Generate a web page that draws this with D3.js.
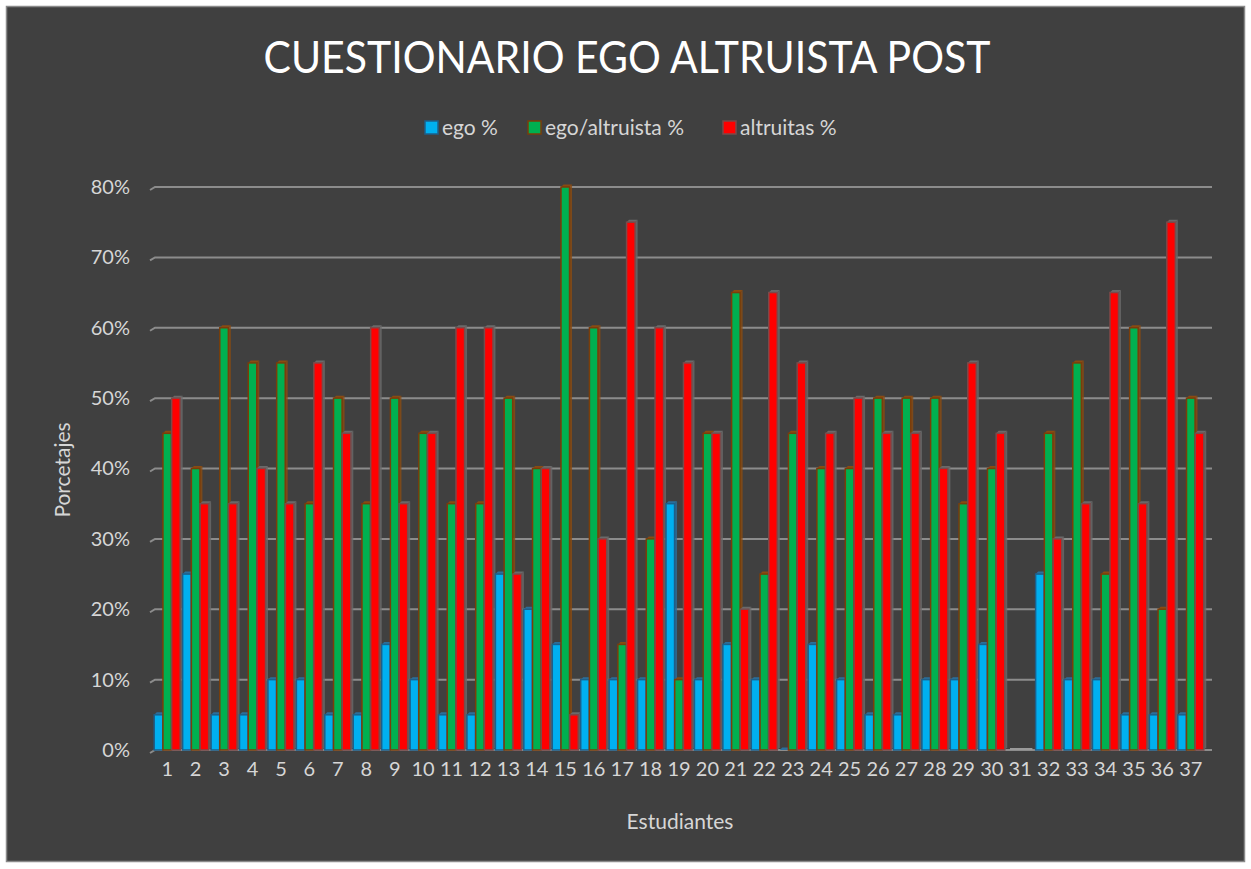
<!DOCTYPE html>
<html>
<head>
<meta charset="utf-8">
<script src="https://cdn.jsdelivr.net/npm/d3@7"></script>
<style>
    body{ margin:0; background:#ffffff; }
    text{ font-family: Lato, "Open Sans", sans-serif; }
</style>
</head>
<body>
<div id="chart"></div>
<script>
let students = d3.range(1, 38).map(String);
let ego = [5,25,5,5,10,10,5,5,15,10,5,5,25,20,15,10,10,10,35,10,15,10,0,15,10,5,5,10,10,15,null,25,10,10,5,5,5];
let egoAltruista = [45,40,60,55,55,35,50,35,50,45,35,35,50,40,80,60,15,30,10,45,65,25,45,40,40,50,50,50,35,40,null,45,55,25,60,20,50];
let altruitas = [50,35,35,40,35,55,45,60,35,45,60,60,25,40,5,30,75,60,55,45,20,65,55,45,50,45,45,40,55,45,null,30,35,65,35,75,45];
let yTicks = [0,10,20,30,40,50,60,70,80];
let seriesNames = ["ego %", "ego/altruista %", "altruitas %"];

let width = 1251, height = 869;
let colors = ["#00b0f0", "#00b050", "#ff0000"];
let strokes = ["#1d5f8a", "#7a3d0a", "#7a4a4a"];
let caps = ["#2a6f9c", "#8a4b12", "#6a6a6a"];
let labelColor = "#d6d6d6";

let svg = d3.select("#chart").append("svg")
    .attr("width", width)
    .attr("height", height);

// chart area
svg.append("rect")
    .attr("x", 6.5).attr("y", 6.5)
    .attr("width", 1238).attr("height", 855)
    .attr("fill", "#404040")
    .attr("stroke", "#8a8a8a")
    .attr("stroke-width", 1.5);

let x = d3.scaleBand()
    .domain(students)
    .range([153, 1205]);

let xInner = d3.scaleBand()
    .domain([0, 1, 2])
    .range([0, x.bandwidth()])
    .paddingOuter(0.14)
    .paddingInner(0.02);

let y = d3.scaleLinear()
    .domain([0, 80])
    .range([750, 187]);

// gridlines (with the little 3D foot on the left)
let grid = svg.append("g");
yTicks.forEach(function(t){
    let yy = y(t);
    grid.append("path")
        .attr("d", "M150," + (yy + 3) + " L155," + yy + " L1212," + yy)
        .attr("fill", "none")
        .attr("stroke", "#8c8c8c")
        .attr("stroke-width", 2);
});

// y axis labels
let yAxis = d3.axisLeft(y)
    .tickValues(yTicks)
    .tickSize(0)
    .tickPadding(0)
    .tickFormat(function(d){ return d + "%"; });

svg.append("g")
    .attr("transform", "translate(130,0)")
    .call(yAxis)
    .call(function(g){
        g.select(".domain").remove();
        g.selectAll("text")
            .attr("fill", labelColor)
            .style("font-size", "20px");
    });

// x axis labels
let xAxis = d3.axisBottom(x)
    .tickSize(0)
    .tickPadding(0);

svg.append("g")
    .attr("transform", "translate(0,762)")
    .call(xAxis)
    .call(function(g){
        g.select(".domain").remove();
        g.selectAll("text")
            .attr("fill", labelColor)
            .style("font-size", "20px");
    });

// bars
let allSeries = [ego, egoAltruista, altruitas];
let bars = svg.append("g");

students.forEach(function(s, i){
    allSeries.forEach(function(series, k){
        let v = series[i];
        if(v === null) return;
        let bx = x(s) + xInner(k);
        let bw = xInner.bandwidth();
        let top = y(v);
        let g = bars.append("g");
        // depth side
        g.append("path")
            .attr("d", "M" + (bx + bw) + "," + y(0) + " L" + (bx + bw) + "," + top +
                " L" + (bx + bw + 2.5) + "," + (top - 2.5) + " L" + (bx + bw + 2.5) + "," + (y(0) - 2.5) + "Z")
            .attr("fill", caps[k])
            .attr("opacity", 0.8);
        // top cap
        g.append("path")
            .attr("d", "M" + bx + "," + top + " L" + (bx + 2.5) + "," + (top - 2.5) +
                " L" + (bx + bw + 2.5) + "," + (top - 2.5) + " L" + (bx + bw) + "," + top + "Z")
            .attr("fill", caps[k]);
        g.append("rect")
            .attr("x", bx)
            .attr("y", top)
            .attr("width", bw)
            .attr("height", y(0) - top)
            .attr("fill", colors[k])
            .attr("stroke", strokes[k])
            .attr("stroke-width", 1.5);
    });
});

// empty student 31 floor
let s31 = students[30];
bars.append("line")
    .attr("x1", x(s31) + 4).attr("x2", x(s31) + x.bandwidth() - 2)
    .attr("y1", y(0) - 1).attr("y2", y(0) - 1)
    .attr("stroke", "#9a9a9a")
    .attr("stroke-width", 2);

// title
svg.append("text")
    .attr("x", 627)
    .attr("y", 73)
    .attr("text-anchor", "middle")
    .attr("fill", "#ffffff")
    .attr("textLength", 727)
    .attr("lengthAdjust", "spacingAndGlyphs")
    .style("font-size", "44px")
    .text("CUESTIONARIO EGO ALTRUISTA POST");

// legend
let legendX = [425, 528, 723];
let legend = svg.append("g");
seriesNames.forEach(function(name, k){
    legend.append("rect")
        .attr("x", legendX[k]).attr("y", 121)
        .attr("width", 13).attr("height", 13)
        .attr("fill", colors[k])
        .attr("stroke", strokes[k])
        .attr("stroke-width", 1.5);
    legend.append("text")
        .attr("x", legendX[k] + 17)
        .attr("y", 135)
        .attr("fill", labelColor)
        .style("font-size", "21px")
        .text(name);
});

// axis titles
svg.append("text")
    .attr("transform", "translate(70,470) rotate(-90)")
    .attr("text-anchor", "middle")
    .attr("fill", labelColor)
    .style("font-size", "21px")
    .text("Porcetajes");

svg.append("text")
    .attr("x", 680)
    .attr("y", 829)
    .attr("text-anchor", "middle")
    .attr("fill", labelColor)
    .style("font-size", "21px")
    .text("Estudiantes");
</script>
</body>
</html>
